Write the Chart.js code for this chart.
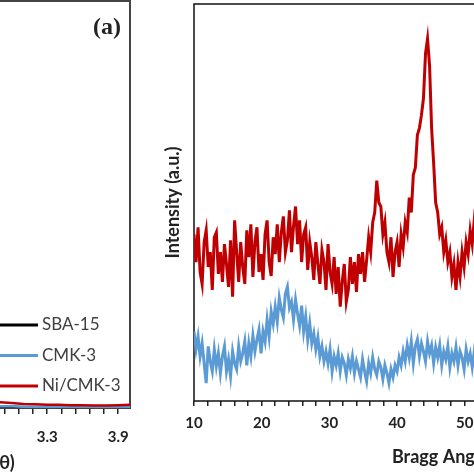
<!DOCTYPE html>
<html>
<head>
<meta charset="utf-8">
<script src="https://cdn.jsdelivr.net/npm/chart.js@4.4.1/dist/chart.umd.min.js"></script>
<style>
  html, body { margin: 0; padding: 0; background: #fff; }
  body { width: 474px; height: 474px; overflow: hidden; position: relative; }
  canvas { position: absolute; top: 0; }
  #left { left: -236px; }
  #right { left: 160px; }
</style>
</head>
<body>
<canvas id="left" width="369" height="474"></canvas>
<canvas id="right" width="566" height="474"></canvas>
<script>
// panel (a): low angle, only the high-angle tail is visible
const SAXS_ANGLE = [2.8, 2.9, 3.0, 3.1, 3.2, 3.3, 3.4, 3.5, 3.6, 3.7, 3.8, 3.9, 4.0];
const SBA15 = [0.3, 0.3, 0.3, 0.2, 0.2, 0.2, 0.2, 0.2, 0.2, 0.2, 0.2, 0.2, 0.2];
const CMK3 = [0.4, 0.4, 0.4, 0.3, 0.3, 0.3, 0.3, 0.3, 0.3, 0.3, 0.3, 0.3, 0.3];
const NI_CMK3 = [1.6, 1.4, 1.2, 1.0, 0.9, 0.8, 0.8, 0.7, 0.7, 0.6, 0.6, 0.7, 0.8];
const SAXS_TICK_LABELS = ["0.9", "1.5", "2.1", "2.7", "3.3", "3.9"];

// panel (b): wide angle XRD
const XRD_ANGLE = [
  10.0, 10.3, 10.6, 10.9, 11.2, 11.5, 11.8, 12.1, 12.4, 12.7,
  13.0, 13.3, 13.6, 13.9, 14.2, 14.5, 14.8, 15.1, 15.4, 15.7,
  16.0, 16.3, 16.6, 16.9, 17.2, 17.5, 17.8, 18.1, 18.4, 18.7,
  19.0, 19.3, 19.6, 19.9, 20.2, 20.5, 20.8, 21.1, 21.4, 21.7,
  22.0, 22.3, 22.6, 22.9, 23.2, 23.5, 23.8, 24.1, 24.4, 24.7,
  25.0, 25.3, 25.6, 25.9, 26.2, 26.5, 26.8, 27.1, 27.4, 27.7,
  28.0, 28.3, 28.6, 28.9, 29.2, 29.5, 29.8, 30.1, 30.4, 30.7,
  31.0, 31.3, 31.6, 31.9, 32.2, 32.5, 32.8, 33.1, 33.4, 33.7,
  34.0, 34.3, 34.6, 34.9, 35.2, 35.5, 35.8, 36.1, 36.4, 36.7,
  37.0, 37.3, 37.6, 37.9, 38.2, 38.5, 38.8, 39.1, 39.4, 39.7,
  40.0, 40.3, 40.6, 40.9, 41.2, 41.5, 41.8, 42.1, 42.4, 42.7,
  43.0, 43.3, 43.6, 43.9, 44.2, 44.5, 44.8, 45.1, 45.4, 45.7,
  46.0, 46.3, 46.6, 46.9, 47.2, 47.5, 47.8, 48.1, 48.4, 48.7,
  49.0, 49.3, 49.6, 49.9, 50.2, 50.5, 50.8, 51.1, 51.4, 51.7,
  52.0
];
const NI_CMK3_XRD = [
  168, 140, 175, 130, 118, 160, 172, 135, 150, 112,
  165, 170, 128, 150, 120, 158, 138, 115, 162, 105,
  182, 150, 120, 160, 135, 118, 172, 145, 178, 125,
  160, 175, 130, 148, 122, 168, 182, 140, 126, 165,
  148, 178, 140, 170, 186, 150, 162, 192, 150, 176,
  196, 158, 182, 140, 168, 175, 132, 160, 145, 122,
  160, 138, 118, 152, 140, 112, 158, 130, 118, 145,
  108, 135, 95, 120, 138, 100, 112, 145, 118, 140,
  110, 148, 128, 150, 120, 142, 165, 150, 180, 190,
  222, 200, 196, 168, 180, 150, 140, 165, 125, 150,
  160, 135, 168, 155, 180, 170, 205, 190, 228, 235,
  268, 275, 288, 305, 350, 365, 338, 275, 240, 200,
  190, 168, 175, 150, 162, 140, 150, 125, 138, 112,
  140, 125, 150, 135, 160, 148, 172, 158, 182, 170,
  195
];
const CMK3_XRD = [
  70, 52, 65, 45, 58, 38, 18, 55, 40, 30,
  52, 35, 48, 28, 45, 55, 30, 42, 25, 50,
  38, 32, 55, 40, 48, 60, 36, 58, 45, 66,
  50, 62, 72, 48, 70, 60, 82, 65, 90, 78,
  95, 80, 104, 92, 84, 108, 115, 94, 100, 82,
  102, 88, 76, 96, 70, 85, 62, 78, 58, 68,
  52, 64, 45, 55, 40, 50, 38, 52, 30, 45,
  36, 48, 30, 44, 38, 26, 42, 33, 45, 28,
  40, 32, 24, 42, 30, 20, 38, 28, 44, 32,
  26, 40, 34, 22, 36, 28, 18, 32, 24, 36,
  30, 44, 36, 50, 40, 56, 44, 60, 38, 55,
  62, 45, 58, 50, 40, 60, 48, 56, 38, 54,
  44, 56, 36, 50, 42, 55, 34, 48, 40, 54,
  36, 50, 44, 32, 52, 40, 48, 34, 50, 38,
  46
];

const RED = "#C00000";
const BLUE = "#5B9BD5";
const BLACK = "#000000";
const FONT = "Lato, 'Open Sans', sans-serif";

const toPoints = (xs, ys) => xs.map((x, i) => ({ x: x, y: ys[i] }));

// keep the plot area fixed: no extra room for the end tick labels
const fixHeight = (h) => (scale) => {
  scale.height = h;
  scale.paddingLeft = 0;
  scale.paddingRight = 0;
};

// box round the plot area
const framePlugin = {
  id: "frame",
  beforeDatasetsDraw(chart, args, opts) {
    const { ctx, chartArea: a } = chart;
    ctx.save();
    ctx.strokeStyle = opts.color;
    ctx.lineWidth = opts.width;
    ctx.strokeRect(a.left, a.top, a.right - a.left, a.bottom - a.top);
    ctx.restore();
  }
};

// legend drawn inside the lower right corner of panel (a), plus the "(a)" tag
const insideLegend = {
  id: "insideLegend",
  afterDraw(chart) {
    const { ctx, chartArea: a } = chart;
    ctx.save();
    ctx.font = "17px " + FONT;
    ctx.textBaseline = "middle";
    ctx.textAlign = "left";
    chart.data.datasets.forEach((ds, i) => {
      const y = a.bottom - 83 + i * 30.5;
      ctx.strokeStyle = ds.borderColor;
      ctx.lineWidth = 3;
      ctx.beginPath();
      ctx.moveTo(a.right - 140, y);
      ctx.lineTo(a.right - 92, y);
      ctx.stroke();
      ctx.fillStyle = "#404040";
      ctx.fillText(ds.label, a.right - 88, y);
    });
    ctx.font = "bold 24px 'Liberation Serif', serif";
    ctx.fillStyle = "#222";
    ctx.textAlign = "center";
    ctx.fillText("(a)", a.right - 23, a.top + 27);
    ctx.restore();
  }
};

new Chart(document.getElementById("left"), {
  type: "line",
  data: {
    datasets: [
      { label: "SBA-15", data: toPoints(SAXS_ANGLE, SBA15), borderColor: BLACK, borderWidth: 2.5, order: 2 },
      { label: "CMK-3", data: toPoints(SAXS_ANGLE, CMK3), borderColor: BLUE, borderWidth: 2.5, order: 1 },
      { label: "Ni/CMK-3", data: toPoints(SAXS_ANGLE, NI_CMK3), borderColor: RED, borderWidth: 2.5, order: 0 }
    ]
  },
  options: {
    responsive: false,
    animation: false,
    devicePixelRatio: 1,
    layout: { padding: { left: 3, right: 3, top: 1, bottom: 0 } },
    elements: { point: { radius: 0 }, line: { tension: 0 } },
    plugins: {
      legend: { display: false },
      tooltip: { enabled: false },
      frame: { color: "#444", width: 2 }
    },
    scales: {
      x: {
        type: "linear",
        min: 0.93,
        max: 4.0,
        afterBuildTicks: (scale) => {
          const ticks = [];
          for (let i = 0; i < (SAXS_TICK_LABELS.length - 1) * 5 + 1; i++) {
            ticks.push({ value: 0.9 + i * 0.12 });
          }
          scale.ticks = ticks.filter((t) => t.value >= 0.93);
        },
        afterFit: fixHeight(66),
        grid: { display: true, drawOnChartArea: false, tickLength: 6, color: "#222", lineWidth: 1.5 },
        border: { display: false },
        ticks: {
          autoSkip: false,
          maxRotation: 0,
          padding: 14,
          color: "#222",
          font: { family: FONT, size: 15, weight: "bold" },
          callback: (value) => {
            const i = Math.round((value - 0.9) / 0.12);
            return i % 5 === 0 ? SAXS_TICK_LABELS[i / 5] : "";
          }
        },
        title: {
          display: true,
          text: "Bragg Angle (2θ)",
          color: "#222",
          font: { family: FONT, size: 18, weight: "bold" },
          padding: { top: 0, bottom: 0 }
        }
      },
      y: { display: false, min: 0, max: 100 }
    }
  },
  plugins: [framePlugin, insideLegend]
});

new Chart(document.getElementById("right"), {
  type: "line",
  data: {
    datasets: [
      { label: "Ni/CMK-3", data: toPoints(XRD_ANGLE, NI_CMK3_XRD), borderColor: RED, borderWidth: 3 },
      { label: "CMK-3", data: toPoints(XRD_ANGLE, CMK3_XRD), borderColor: BLUE, borderWidth: 3 }
    ]
  },
  options: {
    responsive: false,
    animation: false,
    devicePixelRatio: 1,
    layout: { padding: { left: 0, right: 4, top: 4, bottom: 0 } },
    elements: { point: { radius: 0 }, line: { tension: 0 } },
    plugins: {
      legend: { display: false },
      tooltip: { enabled: false },
      frame: { color: "#111", width: 1.5 }
    },
    scales: {
      x: {
        type: "linear",
        min: 10,
        max: 88,
        afterFit: fixHeight(73),
        grid: { display: true, drawOnChartArea: false, tickLength: 5, color: "#222", lineWidth: 1.5 },
        border: { display: false },
        ticks: {
          stepSize: 2,
          autoSkip: false,
          maxRotation: 0,
          padding: 8,
          color: "#222",
          font: { family: FONT, size: 15, weight: "bold" },
          callback: (value) => (value % 10 === 0 ? String(value) : "")
        },
        title: {
          display: true,
          text: "Bragg Angle (2θ)",
          color: "#222",
          font: { family: FONT, size: 18, weight: "bold" },
          padding: { top: 0, bottom: 6 }
        }
      },
      y: {
        min: 0,
        max: 400,
        afterFit: (scale) => { scale.width = 34; },
        grid: { display: false },
        border: { display: false },
        ticks: { display: false },
        title: {
          display: true,
          text: "Intensity (a.u.)",
          color: "#222",
          font: { family: FONT, size: 18, weight: "bold" },
          padding: { top: 2, bottom: 0 }
        }
      }
    }
  },
  plugins: [framePlugin]
});
</script>
</body>
</html>
